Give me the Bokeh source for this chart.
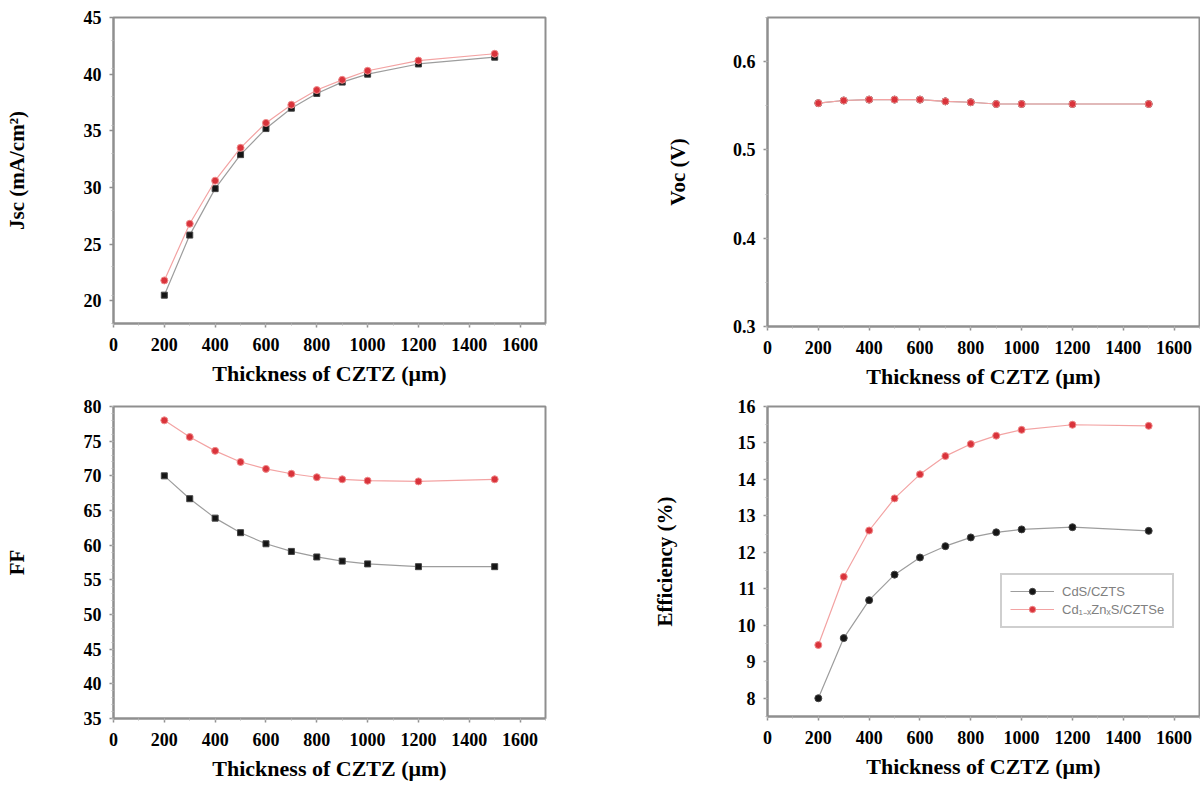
import numpy as np
from bokeh.plotting import figure
from bokeh.layouts import column, row
from bokeh.models import Range1d, FixedTicker, Legend, LegendItem
from bokeh.embed import file_html
from bokeh.resources import INLINE

# CZTS absorber thickness (x axis)
thickness = [200, 300, 400, 500, 600, 700, 800, 900, 1000, 1200, 1500]

# Short-circuit current density (mA/cm2)
jsc_cds = [20.5, 25.8, 29.9, 32.9, 35.2, 37.0, 38.3, 39.3, 40.0, 40.9, 41.5]
jsc_cdzn = [21.8, 26.8, 30.6, 33.5, 35.7, 37.3, 38.6, 39.5, 40.3, 41.2, 41.8]

# Open-circuit voltage (V)
voc_cds = [0.553, 0.556, 0.557, 0.557, 0.557, 0.555, 0.554, 0.552, 0.552, 0.552, 0.552]
voc_cdzn = [0.553, 0.556, 0.557, 0.557, 0.557, 0.555, 0.554, 0.552, 0.552, 0.552, 0.552]

# Fill factor (%)
ff_cds = [70.0, 66.7, 63.9, 61.8, 60.2, 59.1, 58.3, 57.7, 57.3, 56.9, 56.9]
ff_cdzn = [78.0, 75.6, 73.6, 72.0, 71.0, 70.3, 69.8, 69.5, 69.3, 69.2, 69.5]

# Conversion efficiency (%)
eff_cds = [8.0, 9.65, 10.69, 11.39, 11.86, 12.17, 12.41, 12.55, 12.63, 12.69, 12.59]
eff_cdzn = [9.46, 11.33, 12.6, 13.48, 14.14, 14.64, 14.97, 15.2, 15.36, 15.5, 15.47]

series_names = ["CdS/CZTS", "Cd\u2081\u208b\u2093Zn\u2093S/CZTSe"]
x_title = "Thickness of CZTZ (\u03bcm)"
x_ticks = [0, 200, 400, 600, 800, 1000, 1200, 1400, 1600]

FRAME = "#8f8f8f"
SERIF = "Liberation Serif"


def make_panel(ylabel, y_lo, y_hi, y_ticks, y_minor_step, cds, cdzn,
               left, top, fw, fh, right, bottom, y_standoff, black_marker, black_size):
    p = figure(frame_width=fw, frame_height=fh,
               min_border_left=left, min_border_right=right,
               min_border_top=top, min_border_bottom=bottom,
               x_range=Range1d(0, 1700), y_range=Range1d(y_lo, y_hi),
               output_backend="svg", toolbar_location=None)
    p.background_fill_color = "white"
    p.border_fill_color = "white"
    p.outline_line_color = FRAME
    p.outline_line_width = 2
    p.xgrid.visible = False
    p.ygrid.visible = False

    p.xaxis.ticker = FixedTicker(ticks=x_ticks,
                                 minor_ticks=list(np.arange(0, 1701, 100)))
    p.yaxis.ticker = FixedTicker(ticks=y_ticks,
                                 minor_ticks=list(np.arange(y_lo, y_hi + 1e-9, y_minor_step)))

    for ax in (p.xaxis[0], p.yaxis[0]):
        ax.axis_line_color = FRAME
        ax.axis_line_width = 2
        ax.major_tick_line_color = FRAME
        ax.minor_tick_line_color = "#b5b5b5"
        ax.major_tick_line_width = 1.5
        ax.major_tick_in = 0
        ax.major_tick_out = 4
        ax.minor_tick_in = 0
        ax.minor_tick_out = 2
        ax.major_label_text_font = SERIF
        ax.major_label_text_font_style = "bold"
        ax.major_label_text_font_size = "18px"
        ax.major_label_text_color = "black"
        ax.axis_label_text_font = SERIF
        ax.axis_label_text_font_style = "bold"
        ax.axis_label_text_color = "black"

    p.xaxis.axis_label = x_title
    p.xaxis.axis_label_text_font_size = "22px"
    p.xaxis.major_label_standoff = 10
    p.xaxis.axis_label_standoff = 7
    p.yaxis.axis_label = ylabel
    p.yaxis.axis_label_text_font_size = "21px"
    p.yaxis.major_label_standoff = 8
    p.yaxis.axis_label_standoff = y_standoff

    l1 = p.line(thickness, cds, line_color="#9d9d9d", line_width=1.2)
    s1 = p.scatter(thickness, cds, marker=black_marker, size=black_size,
                   fill_color="#151515", line_color="#444444", line_width=1)
    l2 = p.line(thickness, cdzn, line_color="#f3a3a3", line_width=1.2)
    s2 = p.scatter(thickness, cdzn, marker="circle", size=7,
                   fill_color="#d9333b", line_color="#f08a8a", line_width=1)
    return p, (l1, s1), (l2, s2)


p1, _, _ = make_panel("Jsc (mA/cm\u00b2)", 18, 45, [20, 25, 30, 35, 40, 45], 2.5,
                      jsc_cds, jsc_cdzn, 113, 17, 432, 306, 55, 67, 52, "square", 6)
p2, _, _ = make_panel("Voc (V)", 0.3, 0.65, [0.3, 0.4, 0.5, 0.6], 0.05,
                      voc_cds, voc_cdzn, 167, 14, 432, 309, 1, 67, 40, "circle", 7)
p3, _, _ = make_panel("FF", 35, 80, list(range(35, 81, 5)), 1,
                      ff_cds, ff_cdzn, 113, 16, 432, 312, 55, 68, 52, "square", 6)
p4, g_cds, g_cdzn = make_panel("Efficiency (%)", 7.5, 16, list(range(8, 17)), 0.5,
                               eff_cds, eff_cdzn, 167, 15, 432, 310, 1, 71, 58, "circle", 7)

legend = Legend(items=[LegendItem(label=series_names[0], renderers=list(g_cds)),
                       LegendItem(label=series_names[1], renderers=list(g_cdzn))],
                location=(233, 88))
legend.label_text_font = "Liberation Sans"
legend.label_text_font_size = "13px"
legend.label_text_color = "#808080"
legend.border_line_color = "#a0a0a0"
legend.border_line_width = 2
legend.background_fill_color = "white"
legend.background_fill_alpha = 1
legend.glyph_width = 44
legend.glyph_height = 16
legend.label_height = 16
legend.spacing = 1
legend.padding = 8
legend.margin = 0
legend.label_standoff = 8
p4.add_layout(legend)

layout = column(row(p1, p2), row(p3, p4))

open("out.html", "w").write(file_html(layout, INLINE))
